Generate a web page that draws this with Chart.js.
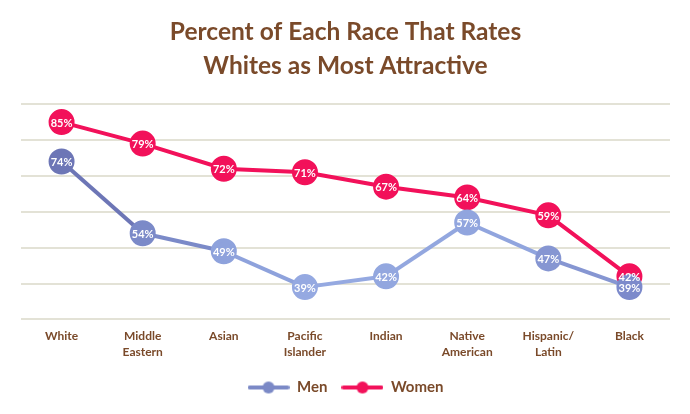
<!DOCTYPE html>
<html><head><meta charset="utf-8">
<script src="https://cdn.jsdelivr.net/npm/chart.js@4/dist/chart.umd.min.js"></script>
<style>html,body{margin:0;padding:0;background:#fff}#wrap{width:690px;height:414px}</style>
</head><body><div id="wrap"><canvas id="c" width="690" height="414"></canvas></div>
<script>
const categories = [['White'], ['Middle', 'Eastern'], ['Asian'], ['Pacific', 'Islander'], ['Indian'], ['Native', 'American'], ['Hispanic/', 'Latin'], ['Black']];
const menValues = [74, 54, 49, 39, 42, 57, 47, 39];
const womenValues = [85, 79, 72, 71, 67, 64, 59, 42];
const titleLines = ['Percent of Each Race That Rates', 'Whites as Most Attractive'];
const seriesNames = ['Men', 'Women'];

const BROWN = '#7a4a2a';
const WOMEN = '#f2115a';
const menPointColors = ['#6d76b6', '#7b8ac8', '#8ea2dc', '#95a9e1', '#93a7df', '#91a5de', '#8696d2', '#7c8acb'];
const FONT = 'Lato, "Open Sans", sans-serif';

function legendIcon(color) {
  const cv = document.createElement('canvas');
  cv.width = 42; cv.height = 14;
  const g = cv.getContext('2d');
  g.strokeStyle = color; g.lineWidth = 4; g.lineCap = 'round';
  g.beginPath(); g.moveTo(2, 7); g.lineTo(40, 7); g.stroke();
  g.fillStyle = color; g.beginPath(); g.arc(21, 7, 6, 0, Math.PI * 2); g.fill();
  return cv;
}
const icons = [legendIcon('#7b89c6'), legendIcon(WOMEN)];

const labelPlugin = {
  id: 'pointLabels',
  afterDatasetsDraw(chart) {
    const ctx = chart.ctx;
    ctx.save();
    ctx.font = 'bold 11px ' + FONT;
    ctx.fillStyle = '#fff';
    ctx.textAlign = 'center';
    ctx.textBaseline = 'middle';
    chart.data.datasets.forEach((ds, i) => {
      const meta = chart.getDatasetMeta(i);
      meta.data.forEach((pt, j) => {
        ctx.fillText(ds.data[j] + '%', pt.x, pt.y + 1);
      });
    });
    ctx.restore();
  }
};

new Chart(document.getElementById('c'), {
  type: 'line',
  data: {
    labels: categories,
    datasets: [
      {
        label: seriesNames[0], data: menValues,
        borderColor: '#8596d2', borderWidth: 4,
        segment: { borderColor: c => menPointColors[c.p0DataIndex] },
        pointBackgroundColor: menPointColors, pointBorderColor: menPointColors,
        pointRadius: 11, pointHoverRadius: 11, tension: 0
      },
      {
        label: seriesNames[1], data: womenValues,
        borderColor: WOMEN, borderWidth: 4,
        pointBackgroundColor: WOMEN, pointBorderColor: WOMEN,
        pointRadius: 11, pointHoverRadius: 11, tension: 0
      }
    ]
  },
  options: {
    responsive: false, animation: false,
    layout: { padding: { left: 21, right: 20, top: 8, bottom: 9 } },
    scales: {
      x: {
        offset: true,
        grid: { display: false },
        border: { display: false },
        afterFit: s => { s.height += 5; },
        ticks: { color: BROWN, font: { family: FONT, weight: 'bold', size: 12, lineHeight: 1.4 }, maxRotation: 0, autoSkip: false, padding: 0 }
      },
      y: {
        min: 30, max: 90,
        ticks: { display: false, stepSize: 10 },
        border: { display: false },
        grid: { color: '#e3e2d6', lineWidth: 2, drawTicks: false }
      }
    },
    plugins: {
      title: {
        display: true, text: titleLines, color: BROWN,
        font: { family: FONT, weight: 'bold', size: 24.5, lineHeight: 1.35 },
        padding: { top: 8, bottom: 22 }
      },
      legend: {
        position: 'bottom',
        labels: {
          color: BROWN, font: { family: FONT, weight: 'bold', size: 15 },
          usePointStyle: true, pointStyleWidth: 42, boxHeight: 14, padding: 14,
          generateLabels: chart => chart.data.datasets.map((ds, i) => ({
            text: ds.label, pointStyle: icons[i], fontColor: BROWN,
            fillStyle: 'transparent', strokeStyle: 'transparent', lineWidth: 0, datasetIndex: i
          }))
        }
      },
      tooltip: { enabled: false }
    }
  },
  plugins: [labelPlugin]
});
</script></body></html>
